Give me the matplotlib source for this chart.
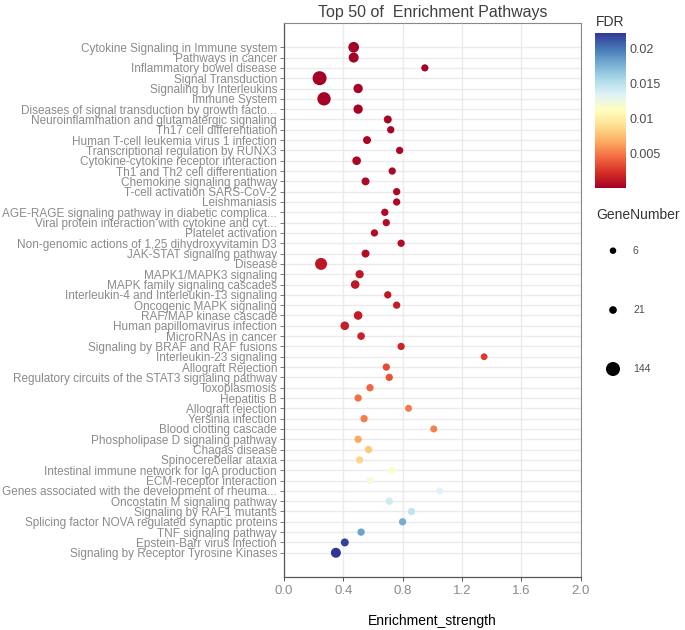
import matplotlib
matplotlib.use("Agg")
import matplotlib.pyplot as plt
import numpy as np
from matplotlib.colors import Normalize

plt.rcParams['font.family'] = ['Liberation Sans', 'DejaVu Sans']

pathways = [
    "Cytokine Signaling in Immune system",
    "Pathways in cancer",
    "Inflammatory bowel disease",
    "Signal Transduction",
    "Signaling by Interleukins",
    "Immune System",
    "Diseases of signal transduction by growth facto...",
    "Neuroinflammation and glutamatergic signaling",
    "Th17 cell differentiation",
    "Human T-cell leukemia virus 1 infection",
    "Transcriptional regulation by RUNX3",
    "Cytokine-cytokine receptor interaction",
    "Th1 and Th2 cell differentiation",
    "Chemokine signaling pathway",
    "T-cell activation SARS-CoV-2",
    "Leishmaniasis",
    "AGE-RAGE signaling pathway in diabetic complica...",
    "Viral protein interaction with cytokine and cyt...",
    "Platelet activation",
    "Non-genomic actions of 1,25 dihydroxyvitamin D3",
    "JAK-STAT signaling pathway",
    "Disease",
    "MAPK1/MAPK3 signaling",
    "MAPK family signaling cascades",
    "Interleukin-4 and Interleukin-13 signaling",
    "Oncogenic MAPK signaling",
    "RAF/MAP kinase cascade",
    "Human papillomavirus infection",
    "MicroRNAs in cancer",
    "Signaling by BRAF and RAF fusions",
    "Interleukin-23 signaling",
    "Allograft Rejection",
    "Regulatory circuits of the STAT3 signaling pathway",
    "Toxoplasmosis",
    "Hepatitis B",
    "Allograft rejection",
    "Yersinia infection",
    "Blood clotting cascade",
    "Phospholipase D signaling pathway",
    "Chagas disease",
    "Spinocerebellar ataxia",
    "Intestinal immune network for IgA production",
    "ECM-receptor interaction",
    "Genes associated with the development of rheuma...",
    "Oncostatin M signaling pathway",
    "Signaling by RAF1 mutants",
    "Splicing factor NOVA regulated synaptic proteins",
    "TNF signaling pathway",
    "Epstein-Barr virus infection",
    "Signaling by Receptor Tyrosine Kinases",
]

strength = [0.47, 0.47, 0.95, 0.24, 0.50, 0.27, 0.50, 0.70, 0.72, 0.56,
            0.78, 0.49, 0.73, 0.55, 0.76, 0.76, 0.68, 0.69, 0.61, 0.79,
            0.55, 0.25, 0.51, 0.48, 0.70, 0.76, 0.50, 0.41, 0.52, 0.79,
            1.35, 0.69, 0.71, 0.58, 0.50, 0.84, 0.54, 1.01, 0.50, 0.57,
            0.51, 0.73, 0.58, 1.05, 0.71, 0.86, 0.80, 0.52, 0.41, 0.35]

genes = [70, 58, 14, 144, 46, 128, 46, 25, 16, 25,
         16, 35, 16, 25, 16, 16, 16, 16, 16, 16,
         25, 97, 30, 35, 16, 16, 35, 35, 20, 16,
         10, 16, 16, 16, 16, 12, 16, 12, 16, 16,
         16, 12, 16, 12, 16, 16, 16, 16, 25, 58]

fdr = [0.00015, 0.00018, 0.0002, 0.00022, 0.00025, 0.00028, 0.0003, 0.00033, 0.00036, 0.0004,
       0.00043, 0.00046, 0.0005, 0.00053, 0.00056, 0.0006, 0.00064, 0.00068, 0.00072, 0.00076,
       0.0008, 0.0012, 0.0013, 0.0013, 0.0014, 0.0015, 0.0015, 0.0016, 0.0017, 0.0018,
       0.0028, 0.0034, 0.0036, 0.0043, 0.0047, 0.0050, 0.0051, 0.0052, 0.0066, 0.0079,
       0.0085, 0.0115, 0.0120, 0.0134, 0.0141, 0.0147, 0.0178, 0.0181, 0.0218, 0.0222]

size_breaks = [6, 21, 144]
fdr_ticks = [0.005, 0.01, 0.015, 0.02]
fdr_labels = ["0.005", "0.01", "0.015", "0.02"]


def marker_area(n):
    # diameter in px grows with sqrt of gene count, converted to pt^2 at 100 dpi
    d = np.sqrt(35.6 + 1.114 * np.asarray(n, dtype=float))
    return (d * 0.72) ** 2


W, H = 685, 630
fig = plt.figure(figsize=(W / 100, H / 100), dpi=100)
ax = fig.add_axes([284 / W, 1 - 577 / H, (580.5 - 284) / W, (577 - 23) / H])

cmap = plt.get_cmap('RdYlBu')
norm = Normalize(vmin=0.00014, vmax=0.0222)

ypos = np.arange(1, len(pathways) + 1)
ax.scatter(strength, ypos, s=marker_area(genes), c=fdr, cmap=cmap, norm=norm,
           linewidths=0, zorder=3)

ax.set_xlim(0, 2)
ax.set_ylim(len(pathways) + 2.35, 1 - 2.35)
ax.set_xticks([0, 0.4, 0.8, 1.2, 1.6, 2.0])
ax.set_xticklabels(["0.0", "0.4", "0.8", "1.2", "1.6", "2.0"])
ax.set_yticks(ypos)
ax.set_yticklabels(pathways)
ax.grid(True, color='#ebebeb', linewidth=1.0, zorder=0)
ax.set_axisbelow(True)
ax.tick_params(axis='y', labelsize=8.45, labelcolor='#8a8a8a', color='#666666',
               length=3, width=0.6, pad=2)
ax.tick_params(axis='x', labelsize=9.5, labelcolor='#8a8a8a', color='#555555',
               length=3, width=0.7, pad=3)
for side in ['top', 'right']:
    ax.spines[side].set_color('#888888')
    ax.spines[side].set_linewidth(0.8)
for side in ['left', 'bottom']:
    ax.spines[side].set_color('#555555')
    ax.spines[side].set_linewidth(0.9)

ax.set_xlabel("Enrichment_strength", fontsize=10, color='black', labelpad=12)
ax.set_title("Top 50 of  Enrichment Pathways", fontsize=11.5, color='#404040', pad=4)

# colour bar
cax = fig.add_axes([595 / W, 1 - 188 / H, 30 / W, 155 / H])
grad = np.linspace(norm.vmin, norm.vmax, 256).reshape(-1, 1)
cax.imshow(grad, aspect='auto', cmap=cmap, norm=norm, origin='lower',
           extent=[0, 1, norm.vmin, norm.vmax])
cax.set_xticks([])
cax.yaxis.tick_right()
cax.set_yticks(fdr_ticks)
cax.set_yticklabels(fdr_labels)
cax.tick_params(axis='y', length=0, labelsize=9, labelcolor='#4d4d4d', pad=3)
for sp in cax.spines.values():
    sp.set_visible(False)
fig.text(596 / W, 1 - 22 / H, "FDR", fontsize=10, color='#333333', va='center', ha='left')

# size legend
fig.text(596 / W, 1 - 215 / H, "GeneNumber", fontsize=10, color='#333333', va='center', ha='left')
lax = fig.add_axes([0, 0, 1, 1], facecolor='none')
lax.set_xlim(0, W)
lax.set_ylim(H, 0)
lax.axis('off')
leg_y = [250.7, 310, 369]
lax.scatter([613] * 3, leg_y, s=marker_area(size_breaks), c='black', linewidths=0)
for yy, lab in zip(leg_y, size_breaks):
    lax.text(633, yy, str(lab), fontsize=7.5, color='#4d4d4d', va='center', ha='left')

fig.savefig("out.png", dpi=100)
